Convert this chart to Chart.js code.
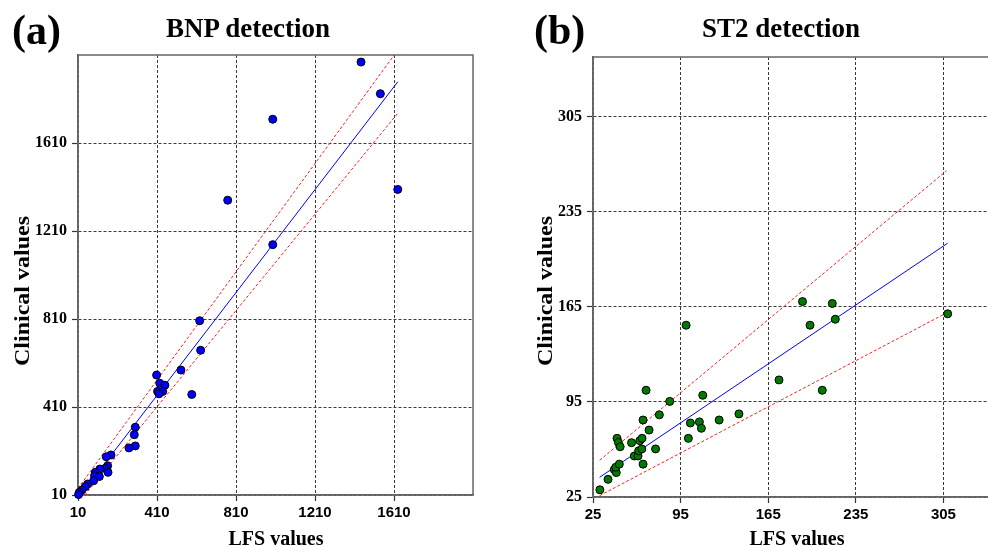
<!DOCTYPE html>
<html><head><meta charset="utf-8">
<script src="https://cdn.jsdelivr.net/npm/chart.js@4.4.1/dist/chart.umd.min.js"></script>
<style>
html,body{margin:0;padding:0;width:988px;height:546px;overflow:hidden;background:#fff;}
.c{position:absolute;top:0;}
.t{position:absolute;font-family:'Liberation Serif','Times New Roman',serif;font-weight:bold;color:#000;line-height:1;white-space:nowrap;}
.ctr{text-align:center;width:400px;}
.rot{transform:translate(-50%,-50%) rotate(-90deg) scaleX(1.2);font-size:20px;}
</style></head><body>
<div class="c" style="left:0;width:494px;height:546px"><canvas id="ca" width="494" height="546"></canvas></div>
<div class="c" style="left:494px;width:520px;height:546px"><canvas id="cb" width="520" height="546"></canvas></div>

<div class="t" style="left:12px;top:9px;font-size:42px">(a)</div>
<div class="t ctr" style="left:48px;top:15px;font-size:27px">BNP detection</div>
<div class="t ctr" style="left:76px;top:528px;font-size:20px">LFS values</div>
<div class="t rot" style="left:22px;top:291px">Clinical values</div>

<div class="t" style="left:534px;top:9px;font-size:42px">(b)</div>
<div class="t ctr" style="left:581px;top:15px;font-size:27px">ST2 detection</div>
<div class="t ctr" style="left:597px;top:528px;font-size:20px">LFS values</div>
<div class="t rot" style="left:545px;top:291px">Clinical values</div>

<script>
// ---- Panel (a): BNP detection ----
const bnpLFS = [1443,1541,996,768,1629,996,626,631,531,586,408,424,450,413,439,420,300,295,300,268,177,153,160,148,162,121,98,94,118,89,59,47,30,17,13];
const bnpClinical = [1978,1834,1718,1350,1399,1148,802,668,578,467,555,518,509,481,481,470,318,284,233,224,192,184,143,131,113,128,113,98,94,75,60,48,33,22,12];
const bnpFitX = [23,1629];
const bnpFitY = [10,1888];
const bnpUpperX = [10,1611];
const bnpUpperY = [40,2010];
const bnpLowerX = [44,1629];
const bnpLowerY = [10,1745];
const bnpTicks = [10,410,810,1210,1610];

// ---- Panel (b): ST2 detection ----
const st2LFS = [30.5,37,42,43.6,43.2,46,44.2,45.3,46.7,55.8,58,61,61.5,62.4,64.2,64,65,65,67.4,69.8,75,78,86.3,99.4,101.2,102.8,110,111.6,112.7,125.8,141.6,173.6,192.4,198.4,208.2,216.2,218.6,308.4];
const st2Clinical = [30.3,38,45.2,43,46.9,49.2,68.2,65.2,62,65,55.2,55.2,59,66.5,68.2,60.4,49.2,81.7,103.6,74.3,60.4,85.5,95.4,151.5,68.2,79.5,80.3,75.6,99.9,81.7,86.2,111.2,168.9,151.5,103.6,167.5,155.9,159.9];
const st2FitX = [30.3,308.4];
const st2FitY = [39.5,211.9];
const st2UpperX = [30.3,307.4];
const st2UpperY = [52,265.2];
const st2LowerX = [30.3,308.4];
const st2LowerY = [26,161];
const st2Ticks = [25,95,165,235,305];

const pts = (xs, ys) => xs.map((x, i) => ({x: x, y: ys[i]}));

const framePlugin = {
  id: 'frame',
  beforeDatasetsDraw(chart) {
    const a = chart.chartArea, ctx = chart.ctx;
    ctx.save();
    ctx.strokeStyle = '#666';
    ctx.lineWidth = 1.5;
    ctx.strokeRect(a.left, a.top, a.right - a.left, a.bottom - a.top);
    ctx.restore();
  }
};

function makeChart(id, cfg) {
  const fitScale = (size, horiz) => (s) => {
    if (horiz) s.height = size; else s.width = size;
    s.paddingLeft = 0; s.paddingRight = 0; s.paddingTop = 0; s.paddingBottom = 0;
  };
  const axis = (min, max, ticks, horiz, size, font) => ({
    type: 'linear', min: min, max: max,
    afterBuildTicks: (s) => { s.ticks = ticks.map(v => ({value: v})); },
    afterFit: fitScale(size, horiz),
    ticks: {autoSkip: false, maxRotation: 0, color: '#000', padding: horiz ? 3 : 5, font: font,
            callback: (v) => String(v)},
    grid: {color: '#3a3a3a', lineWidth: 1, drawTicks: true, tickLength: 6, tickColor: '#333', tickWidth: 1.2},
    border: {display: true, color: '#666', width: 1.5, dash: [3, 2]}
  });
  return new Chart(document.getElementById(id), {
    type: 'scatter',
    data: {datasets: [
      {data: cfg.points, backgroundColor: cfg.color, borderColor: '#000', borderWidth: 1, pointRadius: 4, order: 0, clip: false},
      {data: cfg.fit, showLine: true, borderColor: '#0000ff', borderWidth: 1, pointRadius: 0, order: 1},
      {data: cfg.upper, showLine: true, borderColor: '#ff2020', borderWidth: 1, borderDash: [3, 2], pointRadius: 0, order: 2},
      {data: cfg.lower, showLine: true, borderColor: '#ff2020', borderWidth: 1, borderDash: [3, 2], pointRadius: 0, order: 2}
    ]},
    options: {
      responsive: false, animation: false, devicePixelRatio: 1,
      layout: {padding: cfg.padding},
      plugins: {legend: {display: false}, tooltip: {enabled: false}, title: {display: false}},
      scales: {
        x: axis(cfg.xmin, cfg.xmax, cfg.ticks, true, cfg.xh, {family: "'Liberation Sans', Arial, sans-serif", weight: 'bold', size: 15}),
        y: axis(cfg.ymin, cfg.ymax, cfg.ticks, false, cfg.yw, {family: "'Liberation Serif', 'Times New Roman', serif", weight: 'bold', size: 16})
      }
    },
    plugins: [framePlugin]
  });
}

makeChart('ca', {
  points: pts(bnpLFS, bnpClinical), color: '#0000ff',
  fit: pts(bnpFitX, bnpFitY), upper: pts(bnpUpperX, bnpUpperY), lower: pts(bnpLowerX, bnpLowerY),
  xmin: 10, xmax: 2010, ymin: 10, ymax: 2010, ticks: bnpTicks,
  padding: {top: 55, right: 21, bottom: 0, left: 0}, xh: 51, yw: 78
});
makeChart('cb', {
  points: pts(st2LFS, st2Clinical), color: '#007a00',
  fit: pts(st2FitX, st2FitY), upper: pts(st2UpperX, st2UpperY), lower: pts(st2LowerX, st2LowerY),
  xmin: 25, xmax: 351, ymin: 25, ymax: 349, ticks: st2Ticks,
  padding: {top: 57, right: 13, bottom: 0, left: 0}, xh: 49, yw: 99
});
</script>
</body></html>
